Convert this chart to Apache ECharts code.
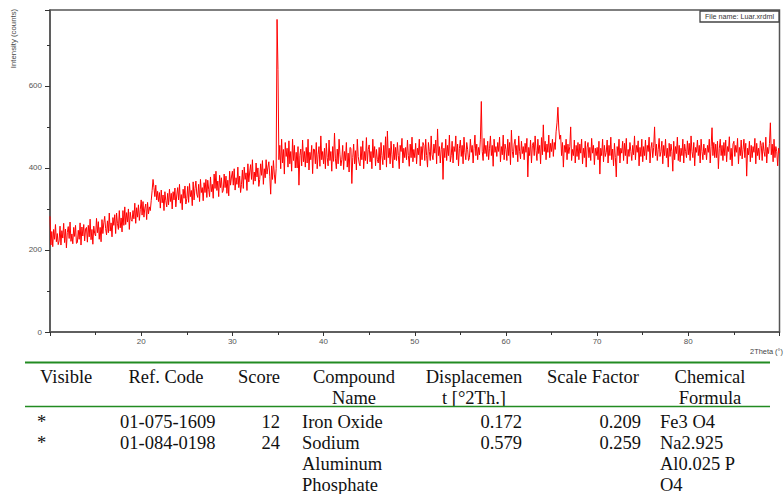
<!DOCTYPE html>
<html>
<head>
<meta charset="utf-8">
<script src="https://cdn.jsdelivr.net/npm/echarts@6/dist/echarts.min.js"></script>
<style>
html,body{margin:0;padding:0;background:#fff;}
#chart{width:784px;height:494px;}
</style>
</head>
<body>
<div id="chart"></div>
<script>
// ---- scan settings (2Theta grid) ----
const scanStart = 10;
const scanStep = 0.1;

// ---- intensity (counts), 0.1 deg steps, one row per degree ----
const intensity10to20 = [
 282,212,245,208,250,226,262,220,240,213,
 222,258,212,247,229,265,218,251,205,243,
 257,228,268,221,239,215,255,233,260,216,
 218,248,226,266,212,256,234,262,222,251,
 255,219,260,232,275,225,250,214,258,240,
 234,277,242,269,226,255,220,274,240,266,
 282,252,237,271,242,290,246,266,232,279,
 260,286,240,290,264,250,296,254,278,244,
 296,260,305,262,291,268,300,250,292,274,
 270,296,276,314,265,303,280,310,272,298
];
const intensity20to30 = [
 322,285,318,280,302,312,274,316,288,305,
 296,320,345,372,352,330,358,322,343,318,
 340,302,346,315,334,296,342,320,305,338,
 310,348,318,338,300,342,322,351,305,334,
 352,322,360,314,335,298,348,326,356,312,
 325,355,316,362,330,345,308,366,322,350,
 368,336,328,360,318,372,340,352,320,364,
 340,372,328,370,348,330,378,342,360,326,
 385,350,392,345,368,330,382,352,376,340,
 345,385,352,380,338,370,332,392,358,378
];
const intensity30to40 = [
 392,358,398,346,376,360,402,352,380,340,
 360,395,350,402,372,388,345,410,366,390,
 408,372,420,360,390,368,412,378,400,355,
 372,410,382,418,360,398,376,420,385,402,
 415,380,336,405,372,418,385,362,398,762,
 640,420,455,398,470,412,445,385,462,428,
 448,402,466,410,440,392,470,418,455,400,
 438,400,452,358,430,446,405,468,415,440,
 402,450,412,470,395,438,420,455,386,446,
 445,410,462,398,432,452,404,478,420,440
];
const intensity40to50 = [
 410,448,398,460,425,405,468,418,440,392,
 452,416,485,422,398,446,410,470,432,405,
 420,455,396,440,418,462,402,436,390,450,
 448,362,425,458,410,442,395,470,428,412,
 405,452,420,466,398,440,418,474,410,445,
 456,415,440,398,470,425,452,405,445,420,
 412,450,395,462,430,408,455,420,476,402,
 490,425,448,410,465,432,400,458,420,450,
 418,462,430,398,455,440,472,412,448,425,
 450,420,468,430,404,458,425,475,415,445
];
const intensity50to60 = [
 425,460,410,448,432,470,405,452,420,462,
 455,418,470,430,402,462,440,418,478,432,
 420,458,436,468,410,495,430,452,412,445,
 462,372,448,425,470,418,455,430,480,415,
 430,465,412,452,440,478,420,458,405,448,
 468,428,455,410,475,438,420,462,445,418,
 425,470,438,455,412,448,480,430,458,420,
 450,432,470,562,440,418,472,435,455,428,
 465,420,448,478,430,455,404,470,438,452,
 428,462,440,475,415,452,432,480,420,458
];
const intensity60to70 = [
 445,418,470,430,462,408,492,440,425,458,
 470,432,455,415,478,440,422,465,435,452,
 420,460,438,472,378,450,430,468,412,455,
 462,430,478,442,418,470,435,455,410,474,
 432,505,440,465,420,458,438,480,425,460,
 440,470,428,462,445,488,510,548,495,470,
 480,430,462,402,455,438,470,420,458,435,
 452,500,418,445,430,468,412,455,428,462,
 420,458,436,470,410,448,425,465,402,450,
 462,425,450,418,472,436,455,408,448,430
];
const intensity70to80 = [
 450,420,465,385,448,430,470,415,455,428,
 438,468,412,455,430,475,420,446,405,460,
 425,378,452,430,470,412,448,436,465,418,
 460,430,472,410,445,428,462,440,418,455,
 432,478,420,455,438,466,405,450,428,470,
 415,452,430,468,420,455,440,475,412,448,
 462,425,450,500,430,458,418,445,472,428,
 440,465,410,455,430,470,425,448,402,460,
 428,458,440,392,465,420,452,435,475,418,
 455,415,448,430,470,412,458,440,425,466
];
const intensity80to90 = [
 432,460,418,478,440,425,462,405,450,438,
 468,430,455,412,470,440,420,458,432,448,
 420,455,438,470,412,452,498,430,462,425,
 458,425,465,398,448,470,430,455,418,462,
 430,468,415,452,440,476,420,448,405,458,
 465,428,455,438,472,410,450,430,468,422,
 445,470,425,460,380,448,432,465,415,455,
 425,452,438,472,410,460,430,448,420,466,
 455,418,462,440,428,475,412,450,435,460,
 510,432,458,415,470,425,452,440,405,448,
 436
];

// ---- axis ticks ----
const xTicks = { min: 10, max: 90, interval: 10 };
const yTicks = { min: 0, max: 785, interval: 200 };

// ---- table ----
const tableHeaders = [
  ["Visible"], ["Ref. Code"], ["Score"], ["Compound", "Name"],
  ["Displacemen", "t [°2Th.]"], ["Scale Factor"], ["Chemical", "Formula"]
];
const tableRow1 = ["*", "01-075-1609", "12", ["Iron Oxide"], "0.172", "0.209", ["Fe3 O4"]];
const tableRow2 = ["*", "01-084-0198", "24", ["Sodium", "Aluminum", "Phosphate"], "0.579", "0.259", ["Na2.925", "Al0.025 P", "O4"]];

// ---- build ----
const intensity = [].concat(intensity10to20, intensity20to30, intensity30to40, intensity40to50,
  intensity50to60, intensity60to70, intensity70to80, intensity80to90);
const points = intensity.map((v, i) => [+(scanStart + i * scanStep).toFixed(1), v]);

const headerX = [ {x:40,a:'left'}, {x:166,a:'center'}, {x:259,a:'center'}, {x:354,a:'center'}, {x:474,a:'center'}, {x:593,a:'center'}, {x:710,a:'center'} ];
const cellX = [ {x:37,a:'left'}, {x:120,a:'left'}, {x:280,a:'right'}, {x:302,a:'left'}, {x:522,a:'right'}, {x:641,a:'right'}, {x:660,a:'left'} ];
const headerY = [376.5, 397.5];
const rowY = [421.5, 442.8, 464.1, 485.4];
const lineH = 21.3;

const graphics = [];
function txt(s, x, y, align, family, size, fill) {
  graphics.push({ type: 'text', silent: true, style: { text: s, x: x, y: y, textAlign: align, textVerticalAlign: 'middle',
    fontFamily: family, fontSize: size, fill: fill || '#111' } });
}
const SERIF = 'Liberation Serif';
const SANS = 'Liberation Sans';
tableHeaders.forEach((lines, c) => lines.forEach((s, k) => txt(s, headerX[c].x, headerY[k], headerX[c].a, SERIF, 18.5)));
[tableRow1, tableRow2].forEach((row, r) => {
  row.forEach((cell, c) => {
    const lines = Array.isArray(cell) ? cell : [cell];
    lines.forEach((s, k) => txt(s, cellX[c].x, rowY[r] + k * lineH, cellX[c].a, SERIF, 18.5));
  });
});
graphics.push({ type: 'line', silent: true, shape: { x1: 25, y1: 362.5, x2: 770, y2: 362.5 }, style: { stroke: '#228b22', lineWidth: 2.2 } });
graphics.push({ type: 'line', silent: true, shape: { x1: 25, y1: 406.5, x2: 770, y2: 406.5 }, style: { stroke: '#228b22', lineWidth: 1.5 } });

// axis names and file box
graphics.push({ type: 'text', silent: true, x: 13.5, y: 38.5, rotation: Math.PI / 2,
  style: { text: 'Intensity (counts)', x: 0, y: 0, textAlign: 'center', textVerticalAlign: 'middle', fontFamily: SANS, fontSize: 7.8, fill: '#444' } });
txt('2Theta (°)', 783, 351, 'right', SANS, 7.4, '#444');
graphics.push({ type: 'rect', silent: true, shape: { x: 700, y: 11, width: 79, height: 11 }, style: { fill: '#fff', stroke: '#444', lineWidth: 1.3 } });
txt('File name: Luar.xrdml', 739.5, 16.8, 'center', SANS, 7.2, '#333');

const chart = echarts.init(document.getElementById('chart'), null, { renderer: 'svg' });
chart.setOption({
  animation: false,
  backgroundColor: '#fff',
  grid: { left: 50, right: 4.5, top: 10, bottom: 162, show: true, borderColor: '#555', borderWidth: 1.5, backgroundColor: 'transparent' },
  xAxis: {
    type: 'value', min: xTicks.min, max: xTicks.max, interval: xTicks.interval,
    axisLine: { show: true, onZero: false, lineStyle: { color: '#555', width: 1.5 } },
    axisTick: { show: true, length: 4, lineStyle: { color: '#333', width: 1 } },
    minorTick: { show: true, splitNumber: 2, length: 3, lineStyle: { color: '#333', width: 1 } },
    axisLabel: { fontSize: 8, color: '#555', margin: 5, showMinLabel: false, showMaxLabel: false, fontFamily: SANS },
    splitLine: { show: false }
  },
  yAxis: {
    type: 'value', min: yTicks.min, max: yTicks.max, interval: yTicks.interval,
    axisLine: { show: true, lineStyle: { color: '#555', width: 1.5 } },
    axisTick: { show: true, length: 5, lineStyle: { color: '#333', width: 1 } },
    minorTick: { show: true, splitNumber: 2, length: 3, lineStyle: { color: '#333', width: 1 } },
    axisLabel: { fontSize: 8, color: '#555', margin: 8, showMaxLabel: false, fontFamily: SANS },
    splitLine: { show: false }
  },
  series: [{
    type: 'line', data: points, symbol: 'none', sampling: null,
    lineStyle: { color: '#ff0000', width: 1 }, clip: true
  }],
  graphic: graphics
});
</script>
</body>
</html>
